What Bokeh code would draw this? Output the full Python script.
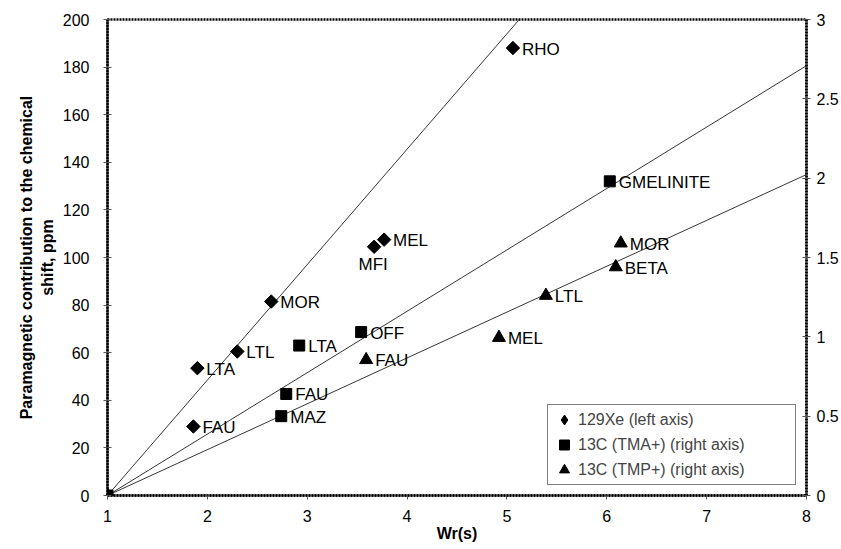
from bokeh.plotting import figure
from bokeh.models import (Range1d, LinearAxis, FixedTicker, Legend, LegendItem,
                          ColumnDataSource, LabelSet, Label, NumeralTickFormatter)
from bokeh.core.properties import value
from bokeh.embed import file_html
from bokeh.resources import INLINE

# ---- data ----
xe_x = [1.0, 1.86, 1.90, 2.30, 2.64, 3.67, 3.77, 5.06]
xe_y = [0.0, 29, 53.5, 60.5, 81.5, 104.5, 107.5, 188]
xe_labels = ["", "FAU", "LTA", "LTL", "MOR", "MFI", "MEL", "RHO"]

tma_x = [1.0, 2.74, 2.79, 2.92, 3.54, 6.03]
tma_y = [0.0, 0.50, 0.64, 0.945, 1.03, 1.98]
tma_labels = ["", "MAZ", "FAU", "LTA", "OFF", "GMELINITE"]

tmp_x = [1.0, 3.59, 4.92, 5.39, 6.09, 6.14]
tmp_y = [0.0, 0.855, 0.995, 1.26, 1.44, 1.59]
tmp_labels = ["", "FAU", "MEL", "LTL", "BETA", "MOR"]

fit_x = [1.0, 8.0]
xe_slope = 48.5      # ppm per unit Wr (left axis)
tma_slope = 0.387    # right axis
tmp_slope = 0.289    # right axis

x_ticks = [1, 2, 3, 4, 5, 6, 7, 8]
left_ticks = [0, 20, 40, 60, 80, 100, 120, 140, 160, 180, 200]
right_ticks = [0, 0.5, 1, 1.5, 2, 2.5, 3]

legend_labels = ["129Xe (left axis)", "13C (TMA+) (right axis)", "13C (TMP+) (right axis)"]

FONT = "Liberation Sans"

p = figure(width=841, height=549, x_range=Range1d(1, 8), y_range=Range1d(0, 200),
           output_backend="svg", toolbar_location=None,
           min_border_left=107, min_border_right=33, min_border_top=19, min_border_bottom=54)
p.extra_y_ranges = {"right": Range1d(0, 3)}
p.xgrid.visible = False
p.ygrid.visible = False
p.background_fill_color = "white"
p.border_fill_color = "white"
p.outline_line_color = "black"
p.outline_line_width = 2.5
p.outline_line_dash = "2 1"

right_axis = LinearAxis(y_range_name="right", ticker=FixedTicker(ticks=right_ticks),
                        formatter=NumeralTickFormatter(format="0.[0]"))
p.add_layout(right_axis, "right")

p.xaxis.ticker = FixedTicker(ticks=x_ticks)
p.yaxis[0].ticker = FixedTicker(ticks=left_ticks)

for ax in [p.xaxis[0], p.yaxis[0], right_axis]:
    ax.axis_line_color = "black"
    ax.axis_line_width = 2.5
    ax.axis_line_dash = "2 1"
    ax.major_tick_in = 4
    ax.major_tick_out = 4
    ax.major_tick_line_color = "#555555"
    ax.minor_tick_line_color = None
    ax.major_label_text_font = FONT
    ax.major_label_text_font_size = "16px"
    ax.major_label_text_color = "black"
    ax.axis_label_text_color = "black"

p.xaxis.major_tick_in = 0
p.xaxis.major_label_standoff = 10
p.xaxis.axis_label = "Wr(s)"
p.xaxis.axis_label_text_font = FONT
p.xaxis.axis_label_text_font_style = "bold"
p.xaxis.axis_label_text_font_size = "16px"
p.xaxis.axis_label_standoff = 0

p.yaxis[0].major_label_standoff = 14
p.yaxis[0].axis_label = "Paramagnetic contribution to the chemical\nshift, ppm"
p.yaxis[0].axis_label_text_font = FONT
p.yaxis[0].axis_label_text_font_style = "bold"
p.yaxis[0].axis_label_text_font_size = "16px"
p.yaxis[0].axis_label_standoff = 4
right_axis.major_label_standoff = 6

# fit lines
p.line(fit_x, [xe_slope * (x - 1) for x in fit_x], line_color="black", line_width=0.8)
p.line(fit_x, [tma_slope * (x - 1) for x in fit_x], line_color="black", line_width=0.8,
       y_range_name="right")
p.line(fit_x, [tmp_slope * (x - 1) for x in fit_x], line_color="black", line_width=0.8,
       y_range_name="right")

src_xe = ColumnDataSource(dict(x=xe_x, y=xe_y, t=xe_labels))
src_tma = ColumnDataSource(dict(x=tma_x, y=tma_y, t=tma_labels))
src_tmp = ColumnDataSource(dict(x=tmp_x, y=tmp_y, t=tmp_labels))

r_xe = p.scatter("x", "y", source=src_xe, marker="square", size=9.5, angle=0.785398,
                 fill_color="black", line_color="black")
r_tma = p.scatter("x", "y", source=src_tma, marker="square", size=11,
                  fill_color="black", line_color="black", y_range_name="right")
r_tmp = p.scatter("x", "y", source=src_tmp, marker="triangle", size=13,
                  fill_color="black", line_color="black", y_range_name="right")
# zero-size diamond renderer: invisible in the plot, provides the diamond legend glyph
r_xe_leg = p.scatter("x", "y", source=src_xe, marker="diamond", size=0,
                     fill_color="black", line_color="black")

# labels (MFI placed below the point separately)
mfi_i = xe_labels.index("MFI")
src_xe_lab = ColumnDataSource(dict(
    x=[v for i, v in enumerate(xe_x) if i != mfi_i],
    y=[v for i, v in enumerate(xe_y) if i != mfi_i],
    t=[v for i, v in enumerate(xe_labels) if i != mfi_i]))
common = dict(text_font=value(FONT), text_font_size="17px", text_color="black",
              text_baseline="middle", text_align="left", x_offset=9, y_offset=-1)
p.add_layout(LabelSet(x="x", y="y", text="t", source=src_xe_lab, **common))
p.add_layout(LabelSet(x="x", y="y", text="t", source=src_tma, y_range_name="right", **common))
p.add_layout(LabelSet(x="x", y="y", text="t", source=src_tmp, y_range_name="right", **common))
p.add_layout(Label(x=xe_x[mfi_i], y=xe_y[mfi_i], text=xe_labels[mfi_i], text_font=FONT,
                   text_font_size="17px", text_color="black", text_align="center",
                   text_baseline="middle", x_offset=-1, y_offset=-18))

legend = Legend(items=[LegendItem(label=legend_labels[0], renderers=[r_xe_leg], index=1),
                       LegendItem(label=legend_labels[1], renderers=[r_tma], index=1),
                       LegendItem(label=legend_labels[2], renderers=[r_tmp], index=1)],
                location="bottom_right", margin=10)
legend.label_text_font = FONT
legend.label_text_font_size = "16px"
legend.label_width = 215
legend.label_height = 25
legend.glyph_width = 28
legend.glyph_height = 25
legend.label_standoff = -4
legend.spacing = 0
legend.padding = 2
legend.border_line_color = "black"
legend.border_line_width = 1
legend.background_fill_alpha = 1
p.add_layout(legend)

open("out.html", "w").write(file_html(p, INLINE))
